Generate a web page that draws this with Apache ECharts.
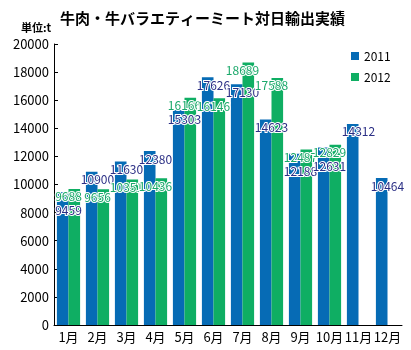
<!DOCTYPE html>
<html>
<head>
<meta charset="utf-8">
<script src="https://cdn.jsdelivr.net/npm/echarts@6/dist/echarts.min.js"></script>
<style>
  html, body { margin: 0; padding: 0; background: #fff; }
  #chart { width: 411px; height: 350px; }
</style>
</head>
<body>
<div id="chart"></div>
<script>
const months = ['1月', '2月', '3月', '4月', '5月', '6月', '7月', '8月', '9月', '10月', '11月', '12月'];
const values2011 = [9459, 10900, 11630, 12380, 15303, 17626, 17130, 14623, 12188, 12631, 14312, 10464];
const values2012 = [9688, 9656, 10351, 10436, 16166, 16146, 18689, 17588, 12487, 12829, '-', '-'];

const font = '"Noto Sans CJK JP", "Noto Sans", sans-serif';
const allValues = [values2011, values2012];

const chart = echarts.init(document.getElementById('chart'));

// labels sit around the category centre just under the bar top;
// when the two labels of a month would collide, the smaller one moves down
function placeLabel(params) {
  const s = params.seriesIndex;
  const i = params.dataIndex;
  const r = params.rect;
  const own = allValues[s][i];
  const other = allValues[1 - s][i];
  const bottom = r.y + r.height;
  const pxPerUnit = r.height / own;
  let y = r.y + 8;
  if (typeof other === 'number') {
    const otherY = bottom - other * pxPerUnit + 8;
    if (own < other && y - otherY < 14) {
      y = otherY + 14;
    }
  }
  return {
    x: s === 0 ? r.x + r.width : r.x,
    y: y,
    align: 'center',
    verticalAlign: 'middle',
  };
}

function labelFor(color) {
  return {
    show: true,
    position: 'top',
    fontSize: 12,
    fontFamily: font,
    color: color,
    textBorderColor: '#fff',
    textBorderWidth: 2,
  };
}

chart.setOption({
  animation: false,
  title: {
    text: '牛肉・牛バラエティーミート対日輸出実績',
    left: 55,
    top: 6,
    textStyle: { fontSize: 15, fontWeight: 'bold', color: '#000', fontFamily: font },
  },
  graphic: [
    {
      type: 'text',
      left: 21,
      top: 22,
      style: { text: '単位:t', fontSize: 11, fontWeight: 'bold', fill: '#000', fontFamily: font },
    },
  ],
  legend: {
    orient: 'vertical',
    left: 351,
    top: 50,
    padding: 0,
    itemWidth: 8,
    itemHeight: 8,
    itemGap: 9,
    icon: 'rect',
    textStyle: { fontSize: 12, color: '#000', fontFamily: font },
    data: ['2011', '2012'],
  },
  grid: { left: 54, right: 9, top: 44, bottom: 25 },
  xAxis: {
    type: 'category',
    data: months,
    axisLine: { lineStyle: { color: '#000', width: 1 } },
    axisTick: { show: false },
    axisLabel: { fontSize: 13, color: '#000', margin: 6, fontFamily: font, interval: 0 },
  },
  yAxis: {
    type: 'value',
    min: 0,
    max: 20000,
    interval: 2000,
    axisLine: { show: true, lineStyle: { color: '#000', width: 1 } },
    axisTick: { show: true, inside: true, length: 4, lineStyle: { color: '#000' } },
    splitLine: { show: false },
    axisLabel: {
      fontSize: 13,
      color: '#000',
      margin: 5,
      fontFamily: font,
      formatter: (v) => String(v),
    },
  },
  series: [
    {
      name: '2011',
      type: 'bar',
      data: values2011,
      barGap: '0%',
      barCategoryGap: '20%',
      itemStyle: { color: '#066bb5' },
      label: labelFor('#2b2f85'),
      labelLayout: placeLabel,
    },
    {
      name: '2012',
      type: 'bar',
      data: values2012,
      itemStyle: { color: '#0fae63' },
      label: labelFor('#1aa86a'),
      labelLayout: placeLabel,
    },
  ],
});
</script>
</body>
</html>
